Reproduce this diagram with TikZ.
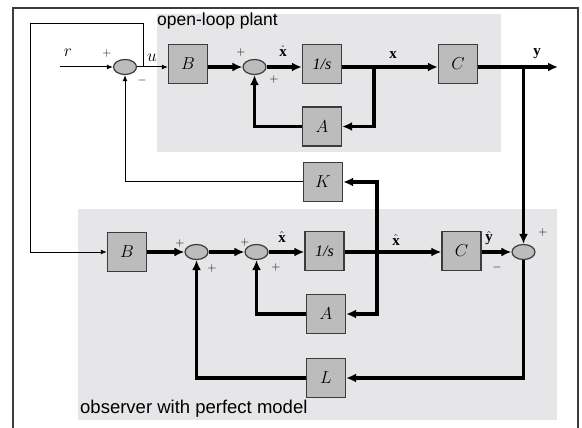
\documentclass[tikz,border=0pt]{standalone}
\usepackage{fontspec}
\setmainfont{Liberation Serif}
\newfontfamily\lsans{Liberation Sans}
\usetikzlibrary{arrows.meta,shapes.geometric}
\definecolor{bggray}{RGB}{230,230,232}
\definecolor{boxgray}{RGB}{188,188,188}
\definecolor{edgegray}{RGB}{60,60,60}
\begin{document}
\begin{tikzpicture}[x=1pt,y=-1pt,
  blk/.style={draw=edgegray,line width=1.3pt,fill=boxgray,minimum width=39pt,minimum height=39pt,inner sep=0pt,font=\fontsize{16}{16}\selectfont\itshape},
  sumn/.style={ellipse,draw=edgegray,line width=1.2pt,fill=boxgray,minimum width=23pt,minimum height=15pt,inner sep=0pt},
  thinln/.style={line width=1pt,-{Latex[length=6pt,width=5pt]}},
  thickln/.style={line width=3.2pt,-{Latex[length=10pt,width=9pt]}},
  sgn/.style={font=\fontsize{13}{13}\selectfont,inner sep=0pt},
  lbl/.style={font=\fontsize{15}{15}\selectfont,inner sep=0pt},
  region/.style={fill=bggray,draw=none}
]
\useasboundingbox (0,0) rectangle (582,428);
% backgrounds
\fill[region] (157,14) rectangle (501,152);
\fill[region] (78,209) rectangle (557,420);
% frame
\draw[edgegray,line width=1.5pt] (13,430) -- (13,8) -- (578,8) -- (578,430);
% region titles
\node[anchor=west,inner sep=0pt,font=\lsans\fontsize{17.5}{18}\selectfont] (ttlA) at (157,21) {open-loop plant};
\node[anchor=west,inner sep=0pt,font=\lsans\fontsize{18.5}{19}\selectfont] (ttlB) at (80,409) {observer with perfect model};
% blocks
\node[blk] (blkBa) at (188,64) {$B$};
\node[blk] (blkIa) at (322,64) {1/s};
\node[blk] (blkCa) at (458,64) {$C$};
\node[blk] (blkAa) at (322,126.5) {$A$};
\node[blk] (blkK) at (323,182) {$K$};
\node[blk] (blkBb) at (127,252) {$B$};
\node[blk] (blkIb) at (324.5,251) {1/s};
\node[blk] (blkCb) at (461.5,251) {$C$};
\node[blk] (blkAb) at (326,314) {$A$};
\node[blk] (blkL) at (326,378) {$L$};
% summing junctions
\node[sumn] (sa) at (125,67) {};
\node[sumn] (sb) at (254.5,67) {};
\node[sumn] (sc) at (196.5,252) {};
\node[sumn] (sd) at (256.5,252) {};
\node[sumn] (se) at (523.5,252) {};
% coordinates
\coordinate (rin) at (60,67);
\coordinate (ujn) at (143,67);
\coordinate (fbc) at (30,24);
\coordinate (xjn) at (374,67);
\coordinate (yjn) at (523.5,67);
\coordinate (yout) at (558,67);
\coordinate (xhj) at (377,252);
% connectors top
\draw[thinln] (rin) -- (sa.west);
\draw[thinln] (sa.east) -- (blkBa.west |- sa);
\draw[thickln] (blkBa.east |- sb) -- (sb.west);
\draw[thickln] (sb.east) -- (blkIa.west |- sb);
\draw[thickln] (blkIa.east |- sb) -- (blkCa.west |- sb);
\draw[thickln] (xjn) |- (blkAa.east);
\draw[thickln] (blkAa.west) -| (sb.south);
\draw[thickln] (blkCa.east |- sb) -- (yout);
\draw[thickln] (yjn) -- (se.north);
\draw[thinln] (blkK.west) -| (sa.south);
\draw[thinln] (ujn) |- (fbc) |- (blkBb.west);
% connectors bottom
\draw[thickln] (blkBb.east) -- (sc.west);
\draw[thickln] (sc.east) -- (sd.west);
\draw[thickln] (sd.east) -- (blkIb.west |- sd);
\draw[thickln] (blkIb.east |- sd) -- (blkCb.west |- sd);
\draw[thickln] (xhj) |- (blkK.east);
\draw[thickln] (xhj) |- (blkAb.east);
\draw[thickln] (blkAb.west) -| (sd.south);
\draw[thickln] (blkCb.east |- se) -- (se.west);
\draw[thickln] (se.south) |- (blkL.east);
\draw[thickln] (blkL.west) -| (sc.south);
% labels top
\node[lbl,font=\fontsize{16}{16}\selectfont] (lr) at (68,53) {$r$};
\node[sgn] (p1) at (107,54) {$+$};
\node[sgn] (m1) at (142,81) {$-$};
\node[lbl,font=\fontsize{16}{16}\selectfont] (lu) at (152,58) {$u$};
\node[sgn] (p2) at (241,53) {$+$};
\node[lbl] (lxd) at (283,51) {$\dot{\mathbf{x}}$};
\node[sgn] (p3) at (274,80) {$+$};
\node[lbl] (lx) at (393,55) {$\mathbf{x}$};
\node[lbl] (ly) at (537,54) {$\mathbf{y}$};
% labels bottom
\node[sgn] (p4) at (180,243) {$+$};
\node[sgn] (p5) at (212,268) {$+$};
\node[sgn] (p6) at (245,242) {$+$};
\node[sgn] (p7) at (276,267) {$+$};
\node[lbl] (lxh1) at (282,237) {$\hat{\mathbf{x}}$};
\node[lbl] (lxh2) at (396,240) {$\hat{\mathbf{x}}$};
\node[lbl] (lyh) at (489,238) {$\hat{\mathbf{y}}$};
\node[sgn] (m2) at (497,267) {$-$};
\node[sgn] (p8) at (543,233) {$+$};
\end{tikzpicture}
\end{document}
